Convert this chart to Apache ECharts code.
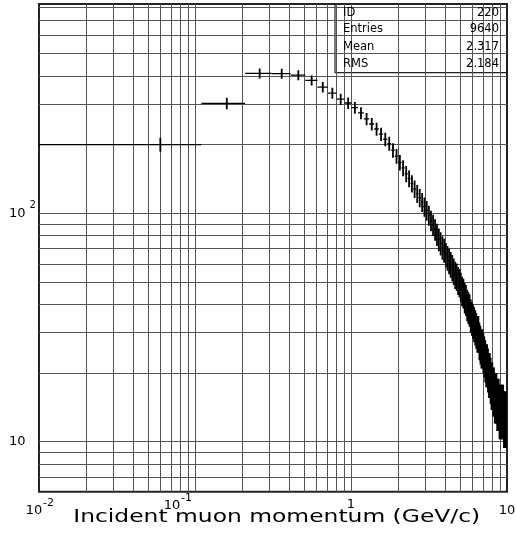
<!DOCTYPE html>
<html><head><meta charset="utf-8">
<script src="https://cdn.jsdelivr.net/npm/echarts@6/dist/echarts.min.js"></script>
<style>html,body{margin:0;padding:0;background:#fff}#c{width:516px;height:541px}</style>
</head><body><div id="c"></div>
<script>
// Histogram binning (PAW style: 100 equal bins from 0.01 to 10 GeV/c)
const binLow = 0.01;
const binHigh = 10;
const nBins = 100;
// Bin contents
const counts = [
  200, 303, 410, 409, 403, 382, 357, 336, 316, 304,
  290, 275, 259, 246, 234, 222, 211, 202, 189, 178,
  167, 158, 149, 142, 135, 128, 122, 117, 112, 107,
  103, 98, 93, 89, 85, 81, 77, 74, 71, 69,
  66, 64, 62, 60, 58, 56, 54, 53, 51, 50,
  48, 46, 45, 43, 42, 40, 39, 38, 36, 35,
  34, 33, 32, 31, 30, 30, 28, 27, 26, 26,
  25, 24, 23, 22, 22, 21, 20, 20, 19, 18,
  18, 17, 17, 16, 16, 16, 15, 15, 15, 14,
  14, 14, 14, 14, 14, 13, 13, 13, 13, 13
];
// Axis ranges
const xMin = 0.01, xMax = 10;
const yMin = 6.04, yMax = 825;
// Tick labels (base, exponent)
const xTickValues = [0.01, 0.1, 1, 10];
const xTickLabels = [['10', '-2'], ['10', '-1'], ['1', ''], ['10', '']];
const yTickValues = [10, 100];
const yTickLabels = [['10', ''], ['10', '2']];
// Grid lines (log decades and their sub-divisions)
const xGridValues = [0.02,0.03,0.04,0.05,0.06,0.07,0.08,0.09,0.1,0.2,0.3,0.4,0.5,0.6,0.7,0.8,0.9,1,2,3,4,5,6,7,8,9];
const yGridValues = [7,8,9,10,20,30,40,50,60,70,80,90,100,200,300,400,500,600,700,800];
// Statistics box
const statNames = ['ID', 'Entries', 'Mean', 'RMS'];
const statValues = ['220', '9640', '2.317', '2.184'];
const xTitle = 'Incident muon momentum (GeV/c)';

const binWidth = (binHigh - binLow) / nBins;
const histData = counts.map((v, i) => {
  const lo = binLow + i * binWidth;
  const hi = lo + binWidth;
  return [lo + binWidth / 2, v, lo, hi, Math.sqrt(v)];
});

const FONT = '"DejaVu Sans"';
const chart = echarts.init(document.getElementById('c'), null, {renderer: 'canvas'});

const option = {
  animation: false,
  backgroundColor: '#fff',
  grid: {left: 39, right: 9, top: 4, bottom: 49.3, containLabel: false, outerBoundsMode: 'none',
         show: true, borderColor: '#222', borderWidth: 2, backgroundColor: 'transparent'},
  xAxis: {
    type: 'log', logBase: 10, min: xMin, max: xMax,
    axisLine: {show: false}, axisTick: {show: false}, splitLine: {show: false}, axisLabel: {show: false}
  },
  yAxis: {
    type: 'log', logBase: 10, min: yMin, max: yMax,
    axisLine: {show: false}, axisTick: {show: false}, splitLine: {show: false}, axisLabel: {show: false}
  },
  series: [
    {
      type: 'line', data: [], z: 1, silent: true,
      markLine: {
        silent: true, symbol: ['none', 'none'], animation: false,
        label: {show: false},
        lineStyle: {color: '#555', width: 1, type: 'solid'},
        emphasis: {disabled: true},
        data: xGridValues.map(v => ({xAxis: v})).concat(yGridValues.map(v => ({yAxis: v})))
      }
    },
    {
      type: 'custom', z: 5, clip: true, silent: true,
      data: histData,
      encode: {x: 0, y: 1},
      renderItem: (params, api) => {
        const c = api.value(0), v = api.value(1), lo = api.value(2), hi = api.value(3), e = api.value(4);
        const pL = api.coord([lo, v]);
        const pR = api.coord([hi, v]);
        const pT = api.coord([c, v + e]);
        const pB = api.coord([c, Math.max(v - e, 1e-3)]);
        return {
          type: 'group',
          children: [
            {type: 'line', shape: {x1: pL[0], y1: pL[1], x2: pR[0], y2: pR[1]}, style: {stroke: '#000', lineWidth: 1.3}},
            {type: 'line', shape: {x1: pT[0], y1: pT[1], x2: pB[0], y2: pB[1]}, style: {stroke: '#000', lineWidth: 1.8}}
          ]
        };
      }
    }
  ]
};
chart.setOption(option);

// Text elements placed through the axes' own scales
const g = [];
function txt(x, y, s, size, align, vAlign) {
  g.push({type: 'text', x: x, y: y, silent: true, z: 10,
    style: {text: s, font: size + 'px ' + FONT, fill: '#000', textAlign: align || 'center', textVerticalAlign: vAlign || 'middle'}});
}
// x tick labels (PAW placement offsets)
const xLabOffsets = [[-5, 511], [-23, 506], [0, 505], [0, 511]];
xTickValues.forEach((v, i) => {
  const px = chart.convertToPixel({xAxisIndex: 0}, v);
  const [base, sup] = xTickLabels[i];
  const bx = px + xLabOffsets[i][0], by = xLabOffsets[i][1];
  txt(bx, by, base, 13, 'center');
  if (sup) txt(bx + 9, by - 8, sup, 11, 'left');
});
// y tick labels
yTickValues.forEach((v, i) => {
  const py = chart.convertToPixel({yAxisIndex: 0}, v);
  const [base, sup] = yTickLabels[i];
  txt(25.5, py, base, 13, 'right');
  if (sup) txt(29.5, py - 8, sup, 10, 'left');
});
// axis title (PAW wide software font imitated by horizontal stretch)
g.push({type: 'text', x: 276.7, y: 508, scaleX: 1.3, silent: true,
  style: {text: xTitle, font: '18px ' + FONT, fill: '#000', textAlign: 'center', textVerticalAlign: 'top'}});
// statistics box
g.push({type: 'line', silent: true, shape: {x1: 335, y1: 4, x2: 335, y2: 72.7}, style: {stroke: '#222', lineWidth: 1.2}});
g.push({type: 'line', silent: true, shape: {x1: 335, y1: 72.7, x2: 507, y2: 72.7}, style: {stroke: '#222', lineWidth: 1.2}});
const statRowY = [12.7, 29.5, 47, 64];
statNames.forEach((n, i) => {
  txt(343, statRowY[i], n, 11.5, 'left');
  txt(499, statRowY[i], statValues[i], 11.5, 'right');
});
chart.setOption({graphic: g});
</script>
</body></html>
